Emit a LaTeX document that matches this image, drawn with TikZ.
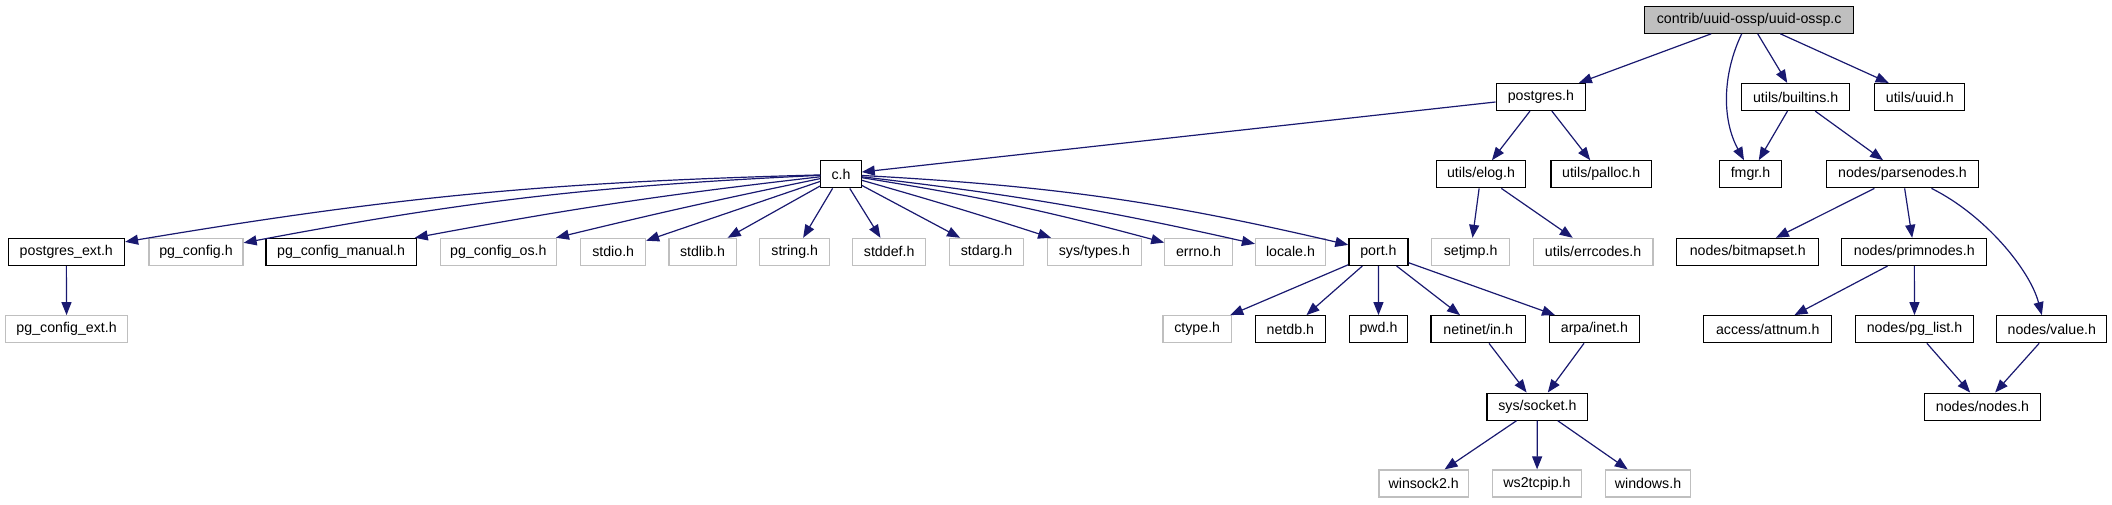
\documentclass[tikz,border=0pt]{standalone}
\usepackage{fontspec}
\setmainfont{Liberation Sans}
\usetikzlibrary{arrows.meta}
\definecolor{edgec}{HTML}{191970}
\definecolor{greyc}{HTML}{BFBFBF}
\begin{document}
\begin{tikzpicture}[x=1pt,y=-1pt,
  box/.style={draw=black, line width=1.2pt, fill=white, inner sep=0pt,
    minimum height=27pt, font=\fontsize{14.2}{16}\selectfont, text=black},
  doc/.style={box},
  undoc/.style={box, draw=greyc},
  mainfile/.style={box, fill=greyc},
  dep/.style={draw=edgec, line width=1.2pt, -{Triangle[length=13pt,width=10pt]}}
]
\useasboundingbox (0,0) rectangle (2112,504);
% row 1
\node[mainfile, minimum width=208.7pt] (main) at (1749.2,19.7) {contrib/uuid-ossp/uuid-ossp.c};
% row 2
\node[doc, minimum width=89.6pt] (pg) at (1540.9,97) {postgres.h};
\node[doc, minimum width=108.3pt] (builtins) at (1795.7,97) {utils/builtins.h};
\node[doc, minimum width=90pt] (uuid) at (1919.8,97) {utils/uuid.h};
% row 3
\node[doc, minimum width=40.3pt] (ch) at (841,174.3) {c.h};
\node[doc, minimum width=89.6pt] (elog) at (1481,174.3) {utils/elog.h};
\node[doc, minimum width=100.6pt] (palloc) at (1601.2,174.3) {utils/palloc.h};
\node[doc, minimum width=62pt] (fmgr) at (1750.5,174.3) {fmgr.h};
\node[doc, minimum width=151.4pt] (parse) at (1902.5,174.3) {nodes/parsenodes.h};
% row 4
\node[doc, minimum width=116.4pt] (pgext) at (66.3,251.9) {postgres\_ext.h};
\node[undoc, minimum width=94.1pt] (pgconf) at (196,251.9) {pg\_config.h};
\node[doc, minimum width=150.2pt] (pgman) at (341.1,251.9) {pg\_config\_manual.h};
\node[undoc, minimum width=116.1pt] (pgos) at (498.4,251.9) {pg\_config\_os.h};
\node[undoc, minimum width=64.7pt] (stdio) at (613.2,251.9) {stdio.h};
\node[undoc, minimum width=67.2pt] (stdlib) at (702.5,251.9) {stdlib.h};
\node[undoc, minimum width=70.3pt] (string) at (794.7,251.9) {string.h};
\node[undoc, minimum width=72.7pt] (stddef) at (889.2,251.9) {stddef.h};
\node[undoc, minimum width=74pt] (stdarg) at (986.5,251.9) {stdarg.h};
\node[undoc, minimum width=93.7pt] (systypes) at (1094.4,251.9) {sys/types.h};
\node[undoc, minimum width=67.4pt] (errno) at (1198.5,251.9) {errno.h};
\node[undoc, minimum width=70pt] (locale) at (1290.5,251.9) {locale.h};
\node[doc, minimum width=59pt] (port) at (1378.4,251.9) {port.h};
\node[undoc, minimum width=78.2pt] (setjmp) at (1470.6,251.9) {setjmp.h};
\node[undoc, minimum width=119.6pt] (errcodes) at (1593.1,251.9) {utils/errcodes.h};
\node[doc, minimum width=142pt] (bitmap) at (1747.8,251.9) {nodes/bitmapset.h};
\node[doc, minimum width=145pt] (prim) at (1914.3,251.9) {nodes/primnodes.h};
% row 5
\node[undoc, minimum width=121.9pt] (pgcext) at (66.6,329.2) {pg\_config\_ext.h};
\node[undoc, minimum width=68.6pt] (ctype) at (1197.2,329.2) {ctype.h};
\node[doc, minimum width=70.6pt] (netdb) at (1290.4,329.2) {netdb.h};
\node[doc, minimum width=58.7pt] (pwd) at (1378.5,329.2) {pwd.h};
\node[doc, minimum width=94.3pt] (netin) at (1478.2,329.2) {netinet/in.h};
\node[doc, minimum width=90.1pt] (arpa) at (1594.4,329.2) {arpa/inet.h};
\node[doc, minimum width=128.3pt] (attnum) at (1767.7,329.2) {access/attnum.h};
\node[doc, minimum width=118pt] (pglist) at (1914.5,329.2) {nodes/pg\_list.h};
\node[doc, minimum width=110pt] (value) at (2051.8,329.2) {nodes/value.h};
% row 6
\node[doc, minimum width=100.8pt] (socket) at (1537.4,406.6) {sys/socket.h};
\node[doc, minimum width=115.4pt] (nodes) at (1982.5,406.6) {nodes/nodes.h};
% row 7
\node[undoc, minimum width=89.3pt] (winsock) at (1423.7,483.5) {winsock2.h};
\node[undoc, minimum width=88.6pt] (ws2) at (1537,483.5) {ws2tcpip.h};
\node[undoc, minimum width=85.5pt] (windows) at (1648,483.5) {windows.h};

% edges
\draw[dep] (main) -- (pg);
\draw[dep] ([xshift=-7.5pt]main.south) .. controls (1722,75) and (1722,120) .. ([xshift=-6.5pt]fmgr.north);
\draw[dep] (main) -- (builtins);
\draw[dep] (main) -- (uuid);
\draw[dep] (pg) -- (ch);
\draw[dep] (pg) -- (elog);
\draw[dep] (pg) -- (palloc);
\draw[dep] (builtins) -- (fmgr);
\draw[dep] (builtins) -- (parse);
\draw[dep] (ch) to[bend right=4] (pgext);
\draw[dep] (ch) to[bend right=4] (pgconf);
\draw[dep] (ch) to[bend right=2] (pgman);
\draw[dep] (ch) to[bend right=1] (pgos);
\draw[dep] (ch) -- (stdio);
\draw[dep] (ch) -- (stdlib);
\draw[dep] (ch) -- (string);
\draw[dep] (ch) -- (stddef);
\draw[dep] (ch) -- (stdarg);
\draw[dep] (ch) to[bend left=1] (systypes);
\draw[dep] (ch) to[bend left=3] (errno);
\draw[dep] (ch) to[bend left=3] (locale);
\draw[dep] (ch) to[bend left=5] (port);
\draw[dep] (elog) -- (setjmp);
\draw[dep] (elog) -- (errcodes);
\draw[dep] (parse) -- (bitmap);
\draw[dep] (parse) -- (prim);
\draw[dep] ([xshift=29pt]parse.south) .. controls (1985,215) and (2030,270) .. ([xshift=-10pt]value.north);
\draw[dep] (pgext) -- (pgcext);
\draw[dep] (port) -- (ctype);
\draw[dep] (port) -- (netdb);
\draw[dep] (port) -- (pwd);
\draw[dep] (port) -- (netin);
\draw[dep] (port) -- (arpa);
\draw[dep] (netin) -- (socket);
\draw[dep] (arpa) -- (socket);
\draw[dep] (socket) -- (winsock);
\draw[dep] (socket) -- (ws2);
\draw[dep] (socket) -- (windows);
\draw[dep] (prim) -- (attnum);
\draw[dep] (prim) -- (pglist);
\draw[dep] (pglist) -- (nodes);
\draw[dep] (value) -- (nodes);
\end{tikzpicture}
\end{document}
